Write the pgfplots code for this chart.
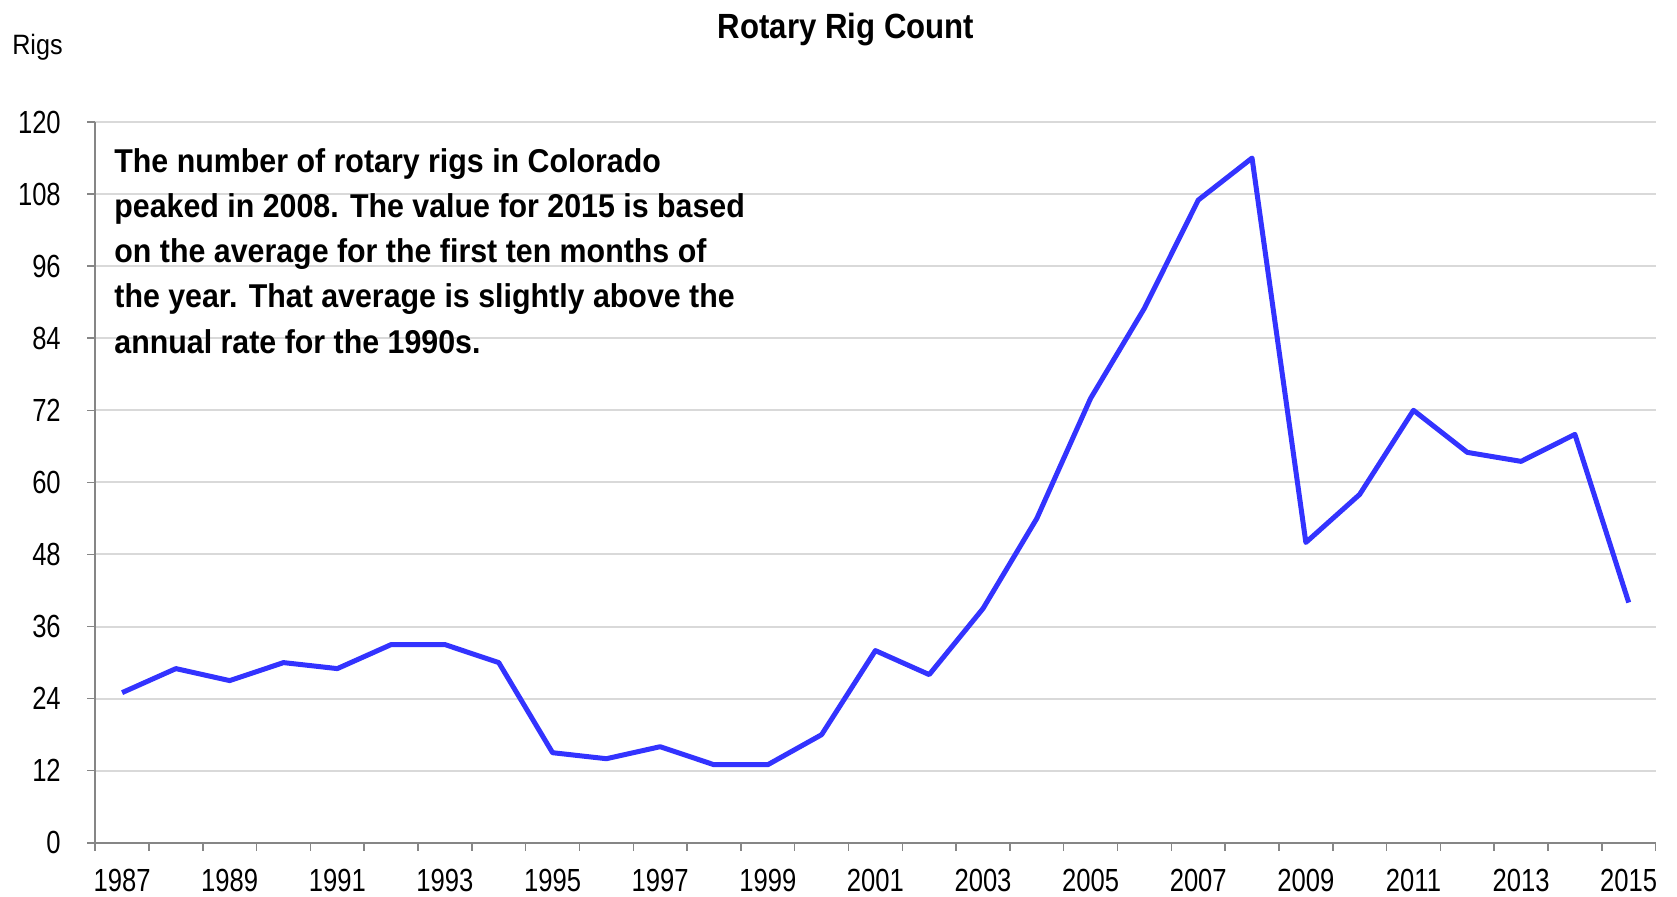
\documentclass[border=0pt]{standalone}
\usepackage{fontspec}
\setmainfont{Liberation Sans}
\newfontfamily\narrowfont{Liberation Sans}[FakeStretch=0.8]
\newfontfamily\rigsfont{Liberation Sans}[FakeStretch=0.9]
\newfontfamily\notefont{Liberation Sans}[FakeStretch=0.92]
\newfontfamily\titlefont{Liberation Sans}[FakeStretch=0.89]
\usepackage{pgfplots}
\usepackage{pgfplotstable}
\pgfplotsset{compat=1.18}
\definecolor{lineblue}{RGB}{51,51,255}
\definecolor{gridgray}{RGB}{217,217,217}
\definecolor{axisgray}{RGB}{134,134,134}

\pgfplotstableread{
x y
0 25
1 29
2 27
3 30
4 29
5 33
6 33
7 30
8 15
9 14
10 16
11 13
12 13
13 18
14 32
15 28
16 39
17 54
18 74
19 89
20 107
21 114
22 50
23 58
24 72
25 65
26 63.5
27 68
28 40
}\rigs

\begin{document}
\begin{tikzpicture}
\begin{axis}[
  name=ax, anchor=south west, at={(0,0)},
  scale only axis, width=780.2pt, height=360.4pt,
  xmin=-0.5, xmax=28.5, ymin=0, ymax=120,
  axis x line*=bottom, axis y line*=left,
  axis line style={axisgray, line width=0.75pt},
  xtick={-0.5,0.5,...,28.5},
  xticklabels={},
  extra x ticks={0,2,...,28},
  extra x tick labels={1987,1989,1991,1993,1995,1997,1999,2001,2003,2005,2007,2009,2011,2013,2015},
  extra x tick style={tick style={draw=none}, xticklabel style={font=\narrowfont\fontsize{16}{16}\selectfont, yshift=-5.6pt}},
  ytick={0,12,...,120},
  tick style={axisgray, line width=0.75pt},
  tick align=outside,
  major tick length=4pt,
  ymajorgrids, grid style={gridgray, line width=1pt},
  yticklabel style={font=\narrowfont\fontsize{16}{16}\selectfont, xshift=-9.7pt},
  /pgf/number format/assume math mode=true,
]
\addplot[lineblue, line width=2.5pt, line join=round] table[x=x, y=y] {\rigs};
\end{axis}
\node[anchor=base, font=\titlefont\bfseries\fontsize{17.5}{20}\selectfont] at ([shift={(375.4pt,402.25pt)}]ax.south west) {Rotary Rig Count};
\node[anchor=base, inner sep=0pt, font=\rigsfont\fontsize{14}{14}\selectfont] at ([shift={(-28.85pt,393.9pt)}]ax.south west) {Rigs};
\node[anchor=base west, inner sep=0pt] at ([shift={(9.4pt,335.25pt)}]ax.south west) {\parbox[t]{420pt}{\raggedright\notefont\bfseries\fontsize{16.5}{22.6}\selectfont The number of rotary rigs in Colorado\\ peaked in 2008. The value for 2015 is based\\ on the average for the first ten months of\\ the year. That average is slightly above the\\ annual rate for the 1990s.}};
\pgfresetboundingbox
\path[use as bounding box] ([shift={(-47.6pt,-26.6pt)}]ax.south west) rectangle ([shift={(790.9pt,421.4pt)}]ax.south west);
\end{tikzpicture}
\end{document}
